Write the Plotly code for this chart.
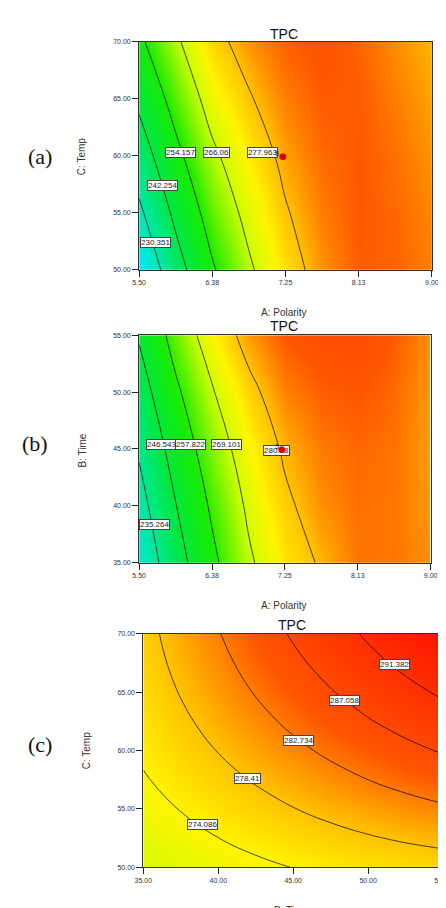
import plotly.graph_objects as go

# ---------------- data ----------------
polarity = [5.5, 5.9375, 6.375, 6.8125, 7.25, 7.6875, 8.125, 8.5625, 9.0]
polarity_ticks = [5.5, 6.375, 7.25, 8.125, 9.0]
polarity_ticktext = ["5.50", "6.38", "7.25", "8.13", "9.00"]

temp_a = [50, 55, 60, 65, 70]
tpc_a = [
    [219.8, 237.6, 253.0, 264.6, 274.3, 281.1, 285.1, 284.5, 282.5],
    [228.3, 244.7, 258.7, 268.9, 277.3, 282.7, 285.3, 284.1, 281.9],
    [236.5, 251.5, 264.2, 273.0, 280.0, 284.0, 285.3, 283.5, 281.0],
    [244.5, 258.1, 270.0, 277.3, 282.5, 285.1, 285.0, 282.6, 279.9],
    [252.2, 264.5, 275.5, 281.0, 284.7, 286.0, 284.5, 281.5, 278.5],
]
levels_a = [230.351, 242.254, 254.157, 266.06, 277.963]
label_x_a = [5.69, 5.78, 6.00, 6.43, 6.98]
label_y_a = [52.4, 57.4, 60.3, 60.3, 60.3]

time_b = [35, 40, 45, 50, 55]
tpc_b = [
    [227.3, 242.0, 255.5, 267.6, 276.3, 281.2, 286.0, 286.0, 284.0],
    [231.6, 246.2, 259.3, 270.6, 278.9, 284.0, 286.3, 285.8, 283.3],
    [236.4, 250.8, 263.5, 274.1, 281.5, 285.5, 287.0, 286.0, 283.0],
    [241.7, 256.0, 268.3, 278.1, 285.1, 287.5, 288.3, 286.8, 283.3],
    [247.5, 261.6, 274.5, 283.3, 288.2, 290.0, 290.0, 288.0, 284.0],
]
levels_b = [235.264, 246.543, 257.822, 269.101, 280.38]
label_x_b = [5.68, 5.77, 6.12, 6.55, 7.15]
label_y_b = [38.4, 45.4, 45.4, 45.4, 44.9]

time_c = [35, 37.5, 40, 42.5, 45, 47.5, 50, 52.5, 55]
temp_c = [50, 52.5, 55, 57.5, 60, 62.5, 65, 67.5, 70]
tpc_c = [
    [270.01, 271.21, 272.30, 273.28, 274.15, 274.92, 275.58, 276.13, 276.57],
    [271.40, 272.78, 274.06, 275.23, 276.29, 277.25, 278.10, 278.84, 279.47],
    [272.65, 274.22, 275.69, 277.05, 278.30, 279.45, 280.48, 281.41, 282.24],
    [273.76, 275.52, 277.18, 278.73, 280.17, 281.50, 282.73, 283.85, 284.86],
    [274.73, 276.68, 278.53, 280.27, 281.90, 283.42, 284.84, 286.15, 287.35],
    [275.57, 277.71, 279.75, 281.67, 283.49, 285.21, 286.81, 288.31, 289.70],
    [276.27, 278.60, 280.82, 282.94, 284.95, 286.85, 288.65, 290.34, 291.92],
    [276.83, 279.35, 281.76, 284.07, 286.27, 288.36, 290.35, 292.22, 293.99],
    [277.25, 279.96, 282.57, 285.06, 287.45, 289.73, 291.91, 293.97, 295.93],
]
levels_c = [274.086, 278.41, 282.734, 287.058, 291.382]
label_x_c = [38.95, 41.94, 45.35, 48.45, 51.76]
label_y_c = [53.7, 57.6, 60.9, 64.3, 67.4]

time_ticks = [35, 40, 45, 50, 55]
temp_ticks = [50, 55, 60, 65, 70]

design_a_x, design_a_y = [7.22], [60]
design_b_x, design_b_y = [7.22], [45]

# ---------------- styling ----------------
W, H = 446, 908
colorscale = [
    [0.00, "rgb(0,235,255)"],
    [0.12, "rgb(0,232,170)"],
    [0.265, "rgb(0,232,70)"],
    [0.41, "rgb(25,235,0)"],
    [0.554, "rgb(205,252,0)"],
    [0.627, "rgb(255,245,0)"],
    [0.699, "rgb(255,190,0)"],
    [0.789, "rgb(255,85,0)"],
    [1.00, "rgb(255,0,0)"],
]


def px_x(v):
    return v / W


def px_y(v):
    return 1 - v / H


panels = [
    dict(x=polarity, y=temp_a, z=tpc_a, levels=levels_a, zmin=220, zmax=303,
         lx=label_x_a, ly=label_y_a, xdom=[127.3, 432.3], ydom=[30, 260]),
    dict(x=polarity, y=time_b, z=tpc_b, levels=levels_b, zmin=222, zmax=306,
         lx=label_x_b, ly=label_y_b, xdom=[127.3, 431.0], ydom=[325.7, 555]),
    dict(x=time_c, y=temp_c, z=tpc_c, levels=levels_c, zmin=231, zmax=299.4,
         lx=label_x_c, ly=label_y_c, xdom=[131.7, 444.0], ydom=[626.7, 862]),
]

fig = go.Figure()
layout = {}
annotations = []
tickfont = dict(family="Liberation Sans, Arial", size=7, color="#333")

for i, p in enumerate(panels, start=1):
    xa = "x" if i == 1 else f"x{i}"
    ya = "y" if i == 1 else f"y{i}"
    lv = p["levels"]
    fig.add_trace(go.Contour(
        x=p["x"], y=p["y"], z=p["z"],
        xaxis=xa, yaxis=ya,
        colorscale=colorscale, zmin=p["zmin"], zmax=p["zmax"], zauto=False,
        showscale=False,
        autocontour=False,
        contours=dict(start=lv[0], end=lv[-1], size=lv[1] - lv[0],
                      coloring="heatmap", showlabels=False),
        line=dict(color="rgba(0,0,0,0.9)", width=0.8, smoothing=1.2),
        hoverinfo="skip",
    ))
    xkey = "xaxis" if i == 1 else f"xaxis{i}"
    ykey = "yaxis" if i == 1 else f"yaxis{i}"
    if i < 3:
        xt, xtt = polarity_ticks, polarity_ticktext
    else:
        xt, xtt = time_ticks, [f"{v:.2f}" for v in time_ticks]
    yt = temp_ticks if i != 2 else time_ticks
    layout[xkey] = dict(
        domain=[px_x(p["xdom"][0]), px_x(p["xdom"][1])],
        anchor=ya, range=[p["x"][0], p["x"][-1]],
        tickvals=xt, ticktext=xtt, ticks="outside", ticklen=6,
        tickcolor="#222", tickfont=tickfont, showgrid=False, zeroline=False,
        showline=True, linecolor="#333", linewidth=1, mirror=True,
    )
    layout[ykey] = dict(
        domain=[px_y(p["ydom"][1]), px_y(p["ydom"][0])],
        anchor=xa, range=[p["y"][0], p["y"][-1]],
        tickvals=yt, ticktext=[f"{v:.2f}" for v in yt], ticks="outside", ticklen=6,
        tickcolor="#222", tickfont=tickfont, showgrid=False, zeroline=False,
        showline=True, linecolor="#333", linewidth=1, mirror=True,
    )
    for v, lx, ly in zip(lv, p["lx"], p["ly"]):
        annotations.append(dict(
            x=lx, y=ly, xref=xa, yref=ya, text=f"{v:g}", showarrow=False,
            font=dict(family="Liberation Sans, Arial", size=8, color="#222"),
            bgcolor="white", bordercolor="#444", borderwidth=1, borderpad=0,
        ))

# design points (drawn above the labels)
for xs, ys, xa, ya in [(design_a_x, design_a_y, "x", "y"), (design_b_x, design_b_y, "x2", "y2")]:
    for dx, dy in zip(xs, ys):
        annotations.append(dict(x=dx - 0.07, y=dy + 0.2, xref=xa, yref=ya, text="5",
                                showarrow=False,
                                font=dict(family="Liberation Sans, Arial", size=7, color="#222")))
        annotations.append(dict(x=dx, y=dy, xref=xa, yref=ya, text="●", showarrow=False,
                                font=dict(family="DejaVu Sans", size=9, color="#e00000")))

text_font = dict(family="Liberation Sans, Arial", color="#333")
# titles
for (cx, cy) in [(278, 21.7), (278, 316.7), (286.7, 617.3)]:
    annotations.append(dict(x=px_x(cx), y=px_y(cy), xref="paper", yref="paper", text="TPC",
                            showarrow=False, font=dict(family="Liberation Sans, Arial", size=14, color="#111"),
                            xanchor="center", yanchor="middle"))
# x-axis titles
for (txt, cx, cy) in [("A: Polarity", 278, 302.7), ("A: Polarity", 278, 598.3), ("B: Time", 286, 905)]:
    annotations.append(dict(x=px_x(cx), y=px_y(cy), xref="paper", yref="paper", text=txt,
                            showarrow=False, font=dict(size=10, **text_font),
                            xanchor="center", yanchor="middle"))
# y-axis titles
for (txt, cx, cy) in [("C: Temp", 68, 146), ("B: Time", 68, 441.7), ("C: Temp", 72, 745)]:
    annotations.append(dict(x=px_x(cx), y=px_y(cy), xref="paper", yref="paper", text=txt,
                            showarrow=False, textangle=-90, font=dict(size=10, **text_font),
                            xanchor="center", yanchor="middle"))
# panel letters
for (txt, cx, cy) in [("(a)", 24, 146), ("(b)", 19, 435), ("(c)", 24, 738)]:
    annotations.append(dict(x=px_x(cx), y=px_y(cy), xref="paper", yref="paper", text=txt,
                            showarrow=False,
                            font=dict(family="Liberation Serif, Times New Roman", size=22, color="#111"),
                            xanchor="center", yanchor="middle"))

fig.update_layout(
    width=W, height=H, margin=dict(l=0, r=0, t=0, b=0),
    paper_bgcolor="white", plot_bgcolor="white",
    showlegend=False, annotations=annotations, **layout,
)
fig.write_html("out.html")
